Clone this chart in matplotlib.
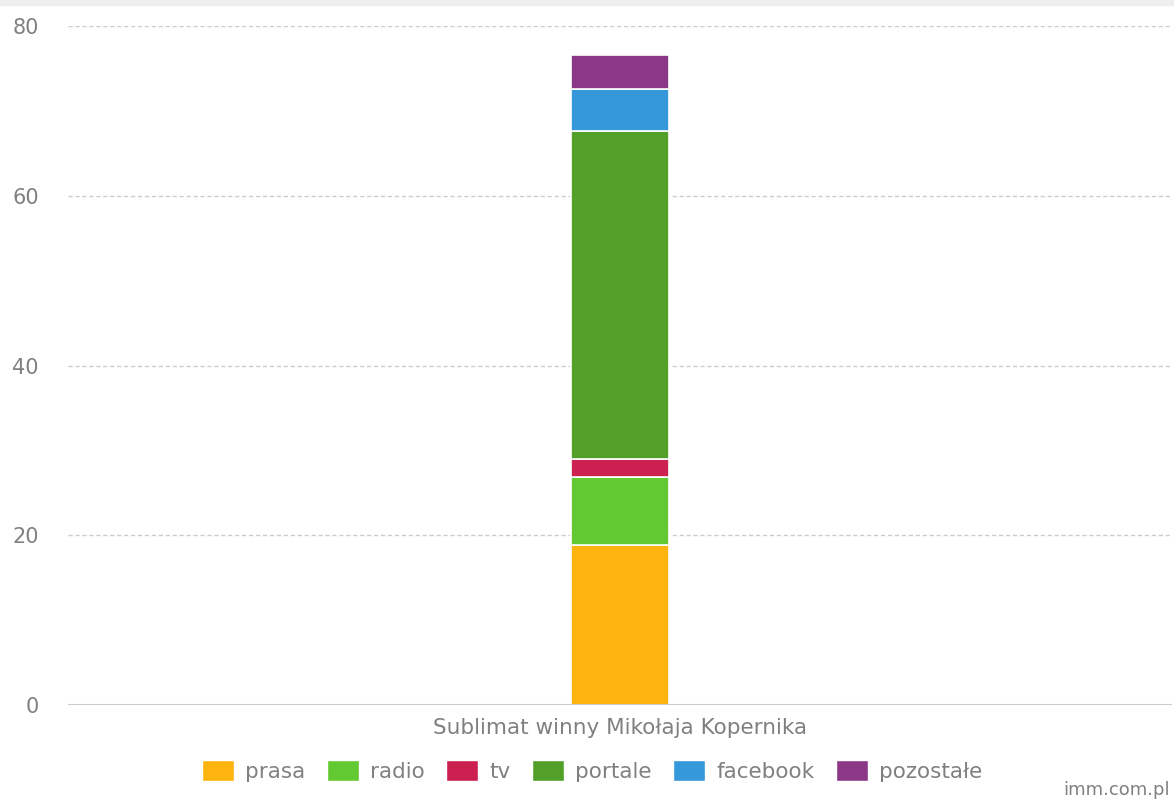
import os
import matplotlib
import matplotlib.pyplot as plt
from matplotlib.patches import Patch
from matplotlib.font_manager import FontProperties

category = "Sublimat winny Mikołaja Kopernika"
series = ["prasa", "radio", "tv", "portale", "facebook", "pozostałe"]
values = [18.9, 8.0, 2.1, 38.6, 5.0, 4.0]
colors = ["#FFB30F", "#62C931", "#CC2150", "#52A02A", "#3598DB", "#8D3887"]
yticks = [0, 20, 40, 60, 80]

txt = "#808080"
dv = os.path.join(matplotlib.get_data_path(), "fonts", "ttf", "DejaVuSans.ttf")


def fp(size):
    return FontProperties(fname=dv, size=size)


fig = plt.figure(figsize=(11.74, 8), dpi=100)
ax = fig.add_axes([68 / 1174, 1 - 705 / 800, (1172 - 68) / 1174, (705 - 26) / 800])

# gray strip at the very top
fig.patches.append(plt.Rectangle((0, 1 - 5 / 800), 1, 5 / 800, transform=fig.transFigure,
                                 color="#eeeeee", zorder=0))

bottom = 0
for name, v, c in zip(series, values, colors):
    ax.bar(0, v, bottom=bottom, width=0.089, color=c, edgecolor="white",
           linewidth=1.2, zorder=3, label=name)
    bottom += v

ax.set_xlim(-0.5, 0.5)
ax.set_ylim(0, 80)
ax.set_yticks(yticks)
ax.set_yticklabels([str(t) for t in yticks], color=txt, fontproperties=fp(15))
ax.tick_params(axis='y', length=0, pad=21)
ax.set_xticks([0])
ax.set_xticklabels([category], color=txt, fontproperties=fp(15.5))
ax.tick_params(axis='x', length=0, pad=9)
for t in yticks[1:]:
    ax.axhline(t, color="#cccccc", linestyle=(0, (3, 2)), linewidth=1, zorder=1)
ax.axhline(0, color="#cccccc", linewidth=1.5, zorder=4)
for s in ax.spines.values():
    s.set_visible(False)

handles = [Patch(facecolor=c, edgecolor="white", label=n) for n, c in zip(series, colors)]
leg = fig.legend(handles=handles, loc="center", bbox_to_anchor=(592 / 1174, 1 - 771 / 800),
                 ncol=6, frameon=False, prop=fp(15.5),
                 handlelength=1.5, handleheight=1.1, columnspacing=1.0, handletextpad=0.5)
for t in leg.get_texts():
    t.set_color(txt)

fig.text(1170 / 1174, 1 - 790 / 800, "imm.com.pl", ha="right", va="center",
         color=txt, fontproperties=fp(13))

fig.savefig("out.png", dpi=100)
